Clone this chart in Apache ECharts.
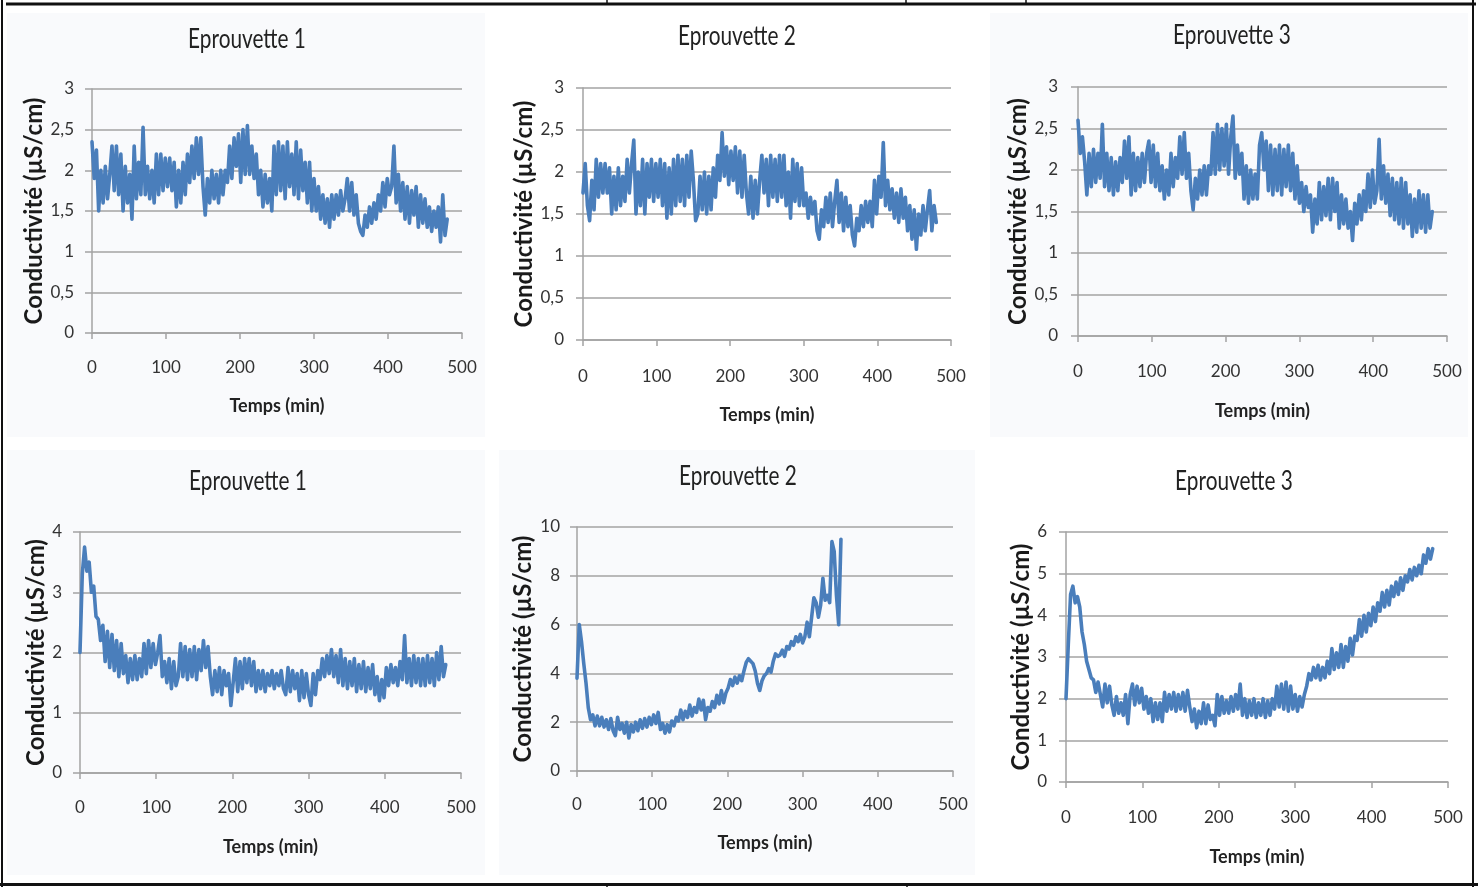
<!DOCTYPE html>
<html>
<head>
<meta charset="utf-8">
<script src="https://cdn.jsdelivr.net/npm/echarts@6/dist/echarts.min.js"></script>
<style>html,body{margin:0;padding:0;background:#fff;}#c{width:1478px;height:887px;}</style>
</head>
<body>
<div id="c"></div>
<script>
// Time (min), one reading every 3 minutes
const minutes = [
  0,3,6,9,12,15,18,21,24,27,
  30,33,36,39,42,45,48,51,54,57,
  60,63,66,69,72,75,78,81,84,87,
  90,93,96,99,102,105,108,111,114,117,
  120,123,126,129,132,135,138,141,144,147,
  150,153,156,159,162,165,168,171,174,177,
  180,183,186,189,192,195,198,201,204,207,
  210,213,216,219,222,225,228,231,234,237,
  240,243,246,249,252,255,258,261,264,267,
  270,273,276,279,282,285,288,291,294,297,
  300,303,306,309,312,315,318,321,324,327,
  330,333,336,339,342,345,348,351,354,357,
  360,363,366,369,372,375,378,381,384,387,
  390,393,396,399,402,405,408,411,414,417,
  420,423,426,429,432,435,438,441,444,447,
  450,453,456,459,462,465,468,471,474,477,
  480
];

const titles = ['Eprouvette 1','Eprouvette 2','Eprouvette 3','Eprouvette 1','Eprouvette 2','Eprouvette 3'];
const xTitle = 'Temps (min)';
const yTitle = 'Conductivité (µS/cm)';
const xTicks = [0,100,200,300,400,500];
const yMaxs = [3,3,3,4,10,6];
const yIntervals = [0.5,0.5,0.5,1,2,1];

// Top row
const top1 = [
  2.35,1.9,2.25,1.5,2.0,1.6,2.05,1.65,1.95,2.3,
  1.75,2.3,1.7,2.2,1.5,2.05,1.6,1.95,1.4,2.3,
  1.65,2.1,1.7,2.53,1.7,2.05,1.65,2.0,1.6,2.2,
  1.7,2.2,1.75,2.15,1.8,2.15,1.75,2.1,1.55,2.0,
  1.6,2.1,1.7,2.2,1.85,2.3,1.9,2.4,1.95,2.4,
  1.8,1.45,1.9,1.6,2.0,1.65,1.95,1.6,2.0,1.7,
  2.0,1.85,2.3,1.9,2.4,2.05,2.45,1.85,2.5,1.95,
  2.55,1.95,2.3,1.9,2.2,1.7,2.0,1.55,1.95,1.6,
  1.9,1.5,2.3,1.7,2.35,1.75,2.3,1.65,2.35,1.8,
  2.2,1.7,2.35,1.65,2.25,1.75,2.1,1.6,2.1,1.5,
  1.9,1.5,1.8,1.4,1.7,1.35,1.65,1.3,1.7,1.4,
  1.7,1.45,1.75,1.5,1.65,1.9,1.5,1.85,1.45,1.7,
  1.35,1.25,1.2,1.45,1.3,1.55,1.35,1.6,1.4,1.7,
  1.5,1.85,1.55,1.9,1.7,1.8,2.3,1.6,1.95,1.5,
  1.85,1.4,1.8,1.35,1.75,1.45,1.8,1.3,1.7,1.35,
  1.65,1.3,1.55,1.25,1.5,1.3,1.55,1.12,1.7,1.2,
  1.4
];
const top2 = [
  1.75,2.1,1.6,1.42,1.9,1.55,2.15,1.7,2.1,1.75,
  2.1,1.75,2.05,1.5,1.95,1.55,2.05,1.6,1.95,1.65,
  2.15,1.75,2.1,2.38,1.5,2.0,1.6,2.15,1.5,2.1,
  1.7,2.15,1.65,2.1,1.7,2.15,1.6,2.1,1.45,2.05,
  1.5,2.15,1.6,2.2,1.65,2.15,1.6,2.2,1.7,2.25,
  1.9,1.42,1.5,1.95,1.55,2.0,1.5,1.95,1.55,2.05,
  1.7,2.2,1.9,2.47,1.95,2.3,1.85,2.25,1.9,2.3,
  1.75,2.25,1.7,2.2,1.75,1.5,1.95,1.45,1.9,1.5,
  1.9,2.2,1.75,2.15,1.6,2.2,1.7,2.15,1.65,2.2,
  1.7,2.2,1.6,2.0,1.45,2.15,1.65,2.1,1.6,2.05,
  1.6,1.75,1.45,1.7,1.5,1.65,1.3,1.2,1.55,1.35,
  1.7,1.4,1.75,1.35,1.65,1.9,1.4,1.75,1.3,1.7,
  1.35,1.6,1.25,1.12,1.45,1.3,1.6,1.35,1.65,1.4,
  1.65,1.35,1.9,1.5,1.95,1.7,2.35,1.6,1.9,1.55,
  1.8,1.45,1.75,1.4,1.8,1.45,1.7,1.3,1.6,1.2,
  1.55,1.08,1.5,1.25,1.6,1.3,1.55,1.78,1.3,1.6,
  1.4
];
const top3 = [
  2.6,2.2,2.4,2.1,1.7,2.2,1.8,2.25,1.85,2.2,
  1.9,2.55,1.8,2.2,1.75,2.15,1.7,2.1,1.75,2.15,
  1.85,2.35,1.9,2.4,1.7,2.2,1.75,2.15,1.8,2.2,
  1.85,2.2,2.35,1.85,2.3,1.8,2.2,1.75,2.05,1.65,
  2.0,1.7,2.2,1.8,2.15,1.9,2.4,1.95,2.45,1.9,
  2.2,1.75,1.52,1.9,1.65,2.0,1.7,2.05,1.7,2.05,
  1.95,2.45,1.95,2.55,2.0,2.5,2.05,2.55,1.95,2.4,
  2.65,1.9,2.3,1.95,2.2,1.65,2.05,1.6,2.0,1.65,
  1.95,1.65,2.3,2.45,2.0,2.35,1.75,2.3,1.7,2.25,
  1.75,2.3,1.7,2.25,1.8,2.3,1.75,2.2,1.65,2.05,
  1.6,1.85,1.5,1.8,1.55,1.7,1.25,1.65,1.35,1.85,
  1.4,1.8,1.45,1.9,1.4,1.9,1.5,1.85,1.3,1.7,
  1.35,1.65,1.3,1.5,1.15,1.6,1.35,1.7,1.4,1.75,
  1.5,1.95,1.55,2.0,1.6,1.75,2.37,1.65,2.05,1.6,
  1.95,1.45,1.9,1.4,1.85,1.35,1.9,1.3,1.85,1.35,
  1.7,1.2,1.65,1.25,1.75,1.3,1.7,1.25,1.7,1.3,
  1.5
];
// Bottom row
const bottom1 = [
  2.0,3.3,3.75,3.35,3.5,3.0,3.1,2.6,2.55,2.2,
  2.45,1.85,2.35,1.75,2.3,1.7,2.2,1.6,2.15,1.65,
  1.95,1.5,1.9,1.55,1.95,1.55,1.9,1.6,2.15,1.65,
  2.2,1.75,2.15,1.8,2.0,2.28,1.6,1.85,1.5,1.9,
  1.4,1.85,1.45,1.6,2.15,1.6,2.1,1.55,2.05,1.6,
  2.1,1.55,2.05,1.7,2.2,1.75,2.1,1.6,1.3,1.7,
  1.35,1.75,1.3,1.7,1.45,1.65,1.12,1.5,1.9,1.35,
  1.85,1.4,1.9,1.5,1.9,1.45,1.85,1.35,1.7,1.4,
  1.7,1.35,1.65,1.45,1.7,1.4,1.65,1.45,1.7,1.4,
  1.3,1.75,1.35,1.7,1.4,1.65,1.2,1.7,1.25,1.65,
  1.3,1.12,1.65,1.3,1.7,1.55,1.9,1.6,1.95,1.65,
  2.05,1.6,1.95,1.5,2.05,1.45,1.9,1.4,1.85,1.45,
  1.9,1.35,1.8,1.4,1.85,1.35,1.75,1.4,1.8,1.3,
  1.6,1.2,1.55,1.25,1.75,1.45,1.8,1.5,1.75,1.45,
  1.85,1.55,2.28,1.5,1.9,1.45,1.95,1.5,1.9,1.45,
  1.9,1.45,1.95,1.5,1.9,1.45,2.0,1.55,2.1,1.6,
  1.8
];
const bottom2 = [
  3.8,6.0,5.3,4.4,3.6,2.6,2.1,2.3,1.85,2.25,
  1.85,2.2,1.8,2.1,1.7,2.15,1.65,1.45,2.2,1.7,
  1.95,1.55,2.0,1.35,1.9,1.6,2.0,1.65,2.1,1.75,
  2.15,1.8,2.2,1.9,2.3,1.95,2.4,1.7,1.95,1.55,
  1.9,1.6,2.05,1.85,2.2,2.05,2.5,2.1,2.45,2.2,
  2.7,2.25,2.6,2.4,2.95,2.5,2.9,2.1,2.6,2.45,
  2.85,2.6,3.1,2.75,3.3,2.8,3.2,3.4,3.75,3.5,
  3.85,3.6,3.9,3.7,4.1,4.45,4.6,4.5,4.4,4.1,
  3.6,3.3,3.7,3.9,4.0,4.2,4.05,4.5,4.8,4.7,
  4.75,4.95,4.7,5.1,5.0,5.3,5.15,5.5,5.3,5.6,
  5.25,5.5,6.1,5.5,6.3,7.1,6.9,6.3,6.8,7.9,
  7.0,7.2,6.9,9.4,9.0,7.2,6.0,9.5
];
const bottom3 = [
  2.0,3.3,4.5,4.7,4.3,4.45,4.2,3.6,3.3,2.9,
  2.7,2.5,2.45,2.15,2.4,2.1,1.8,2.35,1.9,2.3,
  1.85,1.6,2.05,1.65,1.9,1.6,2.1,1.4,2.1,2.35,
  1.85,2.3,1.9,2.25,1.75,2.05,1.65,2.0,1.45,1.9,
  1.5,1.9,1.45,2.15,1.7,2.1,1.75,2.15,1.7,2.1,
  1.75,2.15,1.7,2.2,1.8,1.45,1.75,1.3,1.7,1.4,
  1.9,1.4,1.85,1.5,1.6,1.35,2.1,1.6,2.05,1.65,
  1.95,1.65,2.05,1.7,2.1,1.75,2.35,1.6,2.0,1.55,
  1.95,1.6,2.0,1.55,1.9,1.6,2.0,1.55,1.95,1.6,
  2.0,1.75,2.3,1.8,2.35,1.75,2.4,1.7,2.3,1.75,
  2.1,1.7,2.05,1.8,2.1,2.3,2.6,2.45,2.75,2.5,
  2.8,2.45,2.75,2.5,2.9,2.6,3.2,2.7,3.1,2.75,
  3.3,2.75,3.25,2.9,3.45,3.05,3.5,3.4,3.9,3.5,
  4.0,3.6,4.05,3.75,4.2,3.85,4.3,4.1,4.55,4.2,
  4.6,4.25,4.7,4.45,4.8,4.5,4.9,4.6,4.95,4.8,
  5.1,4.85,5.15,4.95,5.2,5.0,5.45,5.25,5.6,5.35,
  5.6
];
const seriesValues = [top1, top2, top3, bottom1, bottom2, bottom3];

// layout (px)
const grids = [
  {left:92,  top:89,  width:370, height:244},
  {left:583, top:88,  width:368, height:252},
  {left:1078,top:87,  width:369, height:249},
  {left:80,  top:532, width:381, height:241},
  {left:577, top:527, width:376, height:244},
  {left:1066,top:532, width:382, height:250}
];
const titlePos = [[247,40],[737,37],[1232,36],[248,482],[738,477],[1234,482]];
const xLabelMargin = [26,28,27,26,25,27];
const xNameGap = [64,66,66,65,63,66];
const yLabelMargin = [18,19,20,18,17,19];
const yNameGap = [45,45,45,31,42,32];
const panelBg = [[7,13,478,424],[990,13,478,424],[7,450,478,425],[499,450,476,425]];

const FONT = 'Lato, "Open Sans", sans-serif';
const gridColor = '#a3a3a3';
const lineColor = '#4a7ebb';

const chart = echarts.init(document.getElementById('c'), null, {renderer:'canvas'});

const graphic = [];
panelBg.forEach(b => graphic.push({type:'rect', z:-10, silent:true, shape:{x:b[0],y:b[1],width:b[2],height:b[3]}, style:{fill:'#f9fafc'}}));
titles.forEach((t,i) => graphic.push({type:'text', silent:true, x:titlePos[i][0], y:titlePos[i][1], scaleX:0.8,
  style:{text:t, font:'400 26px '+FONT, fill:'#222', textAlign:'center', textVerticalAlign:'middle'}}));
// frame lines
const frame = [
  [6,4,1476,4,3],[2,0,2,887,2],[1473,0,1473,887,2],[0,884.5,1478,884.5,3],
  [607,0,607,4,1.5],[906,0,906,4,1.5],[1026,0,1026,4,1.5],
  [607,884,607,887,1.5],[907,884,907,887,1.5]
];
frame.forEach(f => graphic.push({type:'line', silent:true, z:100, shape:{x1:f[0],y1:f[1],x2:f[2],y2:f[3]}, style:{stroke:'#111', lineWidth:f[4]}}));

const option = {
  animation:false,
  backgroundColor:'#ffffff',
  graphic: graphic,
  grid: grids.map(g => Object.assign({containLabel:false}, g)),
  xAxis: grids.map((g,i) => ({
    type:'value', gridIndex:i, min:xTicks[0], max:xTicks[xTicks.length-1], interval:100,
    name:xTitle, nameLocation:'middle', nameGap:xNameGap[i],
    nameTextStyle:{fontFamily:FONT, fontWeight:'bold', fontSize:18, color:'#222'},
    axisLine:{show:true, onZero:false, lineStyle:{color:gridColor, width:1.5}},
    axisTick:{show:true, length:6, lineStyle:{color:gridColor, width:1.5}},
    axisLabel:{margin:xLabelMargin[i], fontFamily:FONT, fontSize:17, color:'#333'},
    splitLine:{show:false}
  })),
  yAxis: grids.map((g,i) => ({
    type:'value', gridIndex:i, min:0, max:yMaxs[i], interval:yIntervals[i],
    name:yTitle, nameLocation:'middle', nameGap:yNameGap[i], nameRotate:90,
    nameTextStyle:{fontFamily:FONT, fontWeight:'bold', fontSize:24, color:'#1a1a1a'},
    axisLine:{show:true, lineStyle:{color:gridColor, width:1.5}},
    axisTick:{show:true, length:7, lineStyle:{color:gridColor, width:1.5}},
    axisLabel:{margin:yLabelMargin[i], fontFamily:FONT, fontSize:17, color:'#333',
      formatter: v => String(v).replace('.', ',')},
    splitLine:{show:true, lineStyle:{color:gridColor, width:1.5}}
  })),
  series: seriesValues.map((vals,i) => ({
    type:'line', xAxisIndex:i, yAxisIndex:i,
    data: vals.map((v,k) => [minutes[k], v]),
    showSymbol:false, symbol:'none', sampling:null, smooth:false,
    lineStyle:{color:lineColor, width:3.6, join:'round', cap:'round'},
    silent:true, z:5
  }))
};
chart.setOption(option);
</script>
</body>
</html>
